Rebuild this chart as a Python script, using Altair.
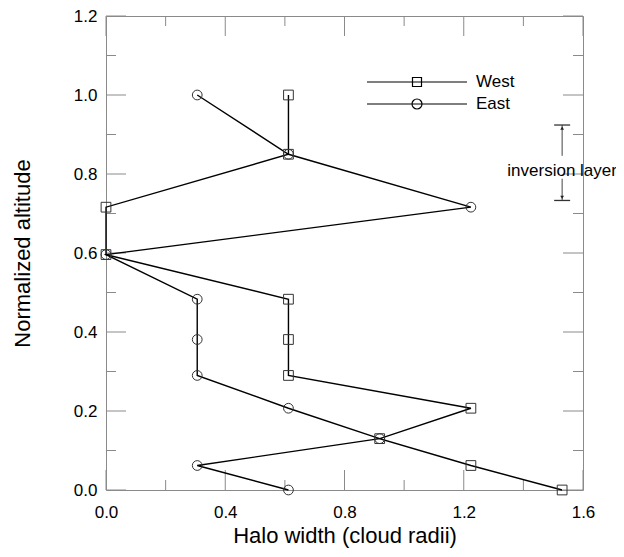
import pandas as pd
import altair as alt

# values
altitude = [1.0, 0.85, 0.716, 0.596, 0.483, 0.381, 0.29, 0.207, 0.13, 0.062, 0.0]
west_width = [0.612, 0.612, 0.0, 0.0, 0.612, 0.612, 0.612, 1.224, 0.918, 1.224, 1.53]
east_width = [0.306, 0.612, 1.224, 0.0, 0.306, 0.306, 0.306, 0.612, 0.918, 0.306, 0.612]
series_names = ['West', 'East']

x_major = [0.0, 0.4, 0.8, 1.2, 1.6]
x_minor = [0.2, 0.6, 1.0, 1.4]
y_major = [0.0, 0.2, 0.4, 0.6, 0.8, 1.0, 1.2]
y_minor = [0.1, 0.3, 0.5, 0.7, 0.9, 1.1]

# inversion layer bracket
inv_x = 1.53
inv_ends = [0.733, 0.924]
inv_shaft_from = [0.733, 0.846]
inv_shaft_to = [0.788, 0.924]
inv_text_y = 0.808
inv_label = 'inversion layer'

W, H = 477, 474
FONT = 'Liberation Sans'
FRAME = '#8a8a8a'

rows = []
for name, widths in zip(series_names, [west_width, east_width]):
    for i, (w, a) in enumerate(zip(widths, altitude)):
        rows.append({'series': name, 'idx': i, 'width': w, 'alt': a})
df = pd.DataFrame(rows)

xs = alt.Scale(domain=[0, 1.6], nice=False, zero=False)
ys = alt.Scale(domain=[0, 1.2], nice=False, zero=False)

x_axis = alt.Axis(values=x_major, format='.1f', ticks=False, domain=False, grid=False, labelFlush=False,
                  labelFontSize=17, labelPadding=14, title='Halo width (cloud radii)',
                  titleFontSize=22, titleFontWeight='normal', titlePadding=5)
y_axis = alt.Axis(values=y_major, format='.1f', ticks=False, domain=False, grid=False, labelFlush=False,
                  labelFontSize=17, labelPadding=9, title='Normalized altitude',
                  titleFontSize=22, titleFontWeight='normal', titlePadding=39)


def X(field):
    return alt.X(field, scale=xs, axis=x_axis)


def Y(field):
    return alt.Y(field, scale=ys, axis=y_axis)


lines = alt.Chart(df).mark_line(color='black', strokeWidth=1.4).encode(
    x=X('width:Q'), y=Y('alt:Q'), detail='series:N', order='idx:Q'
)

points = alt.Chart(df).mark_point(filled=False, color='#333', strokeWidth=1, size=95, opacity=1).encode(
    x=X('width:Q'), y=Y('alt:Q'),
    shape=alt.Shape('series:N', scale=alt.Scale(domain=series_names, range=['square', 'circle']),
                    legend=None)
)

# legend: a long line with the marker in the middle, drawn as custom symbol paths
west_sym = 'M-5,0L5,0M-0.45,-0.45L0.45,-0.45L0.45,0.45L-0.45,0.45Z'
east_sym = ('M-5,0L5,0M0.5,0C0.5,0.276 0.276,0.5 0,0.5C-0.276,0.5 -0.5,0.276 -0.5,0'
            'C-0.5,-0.276 -0.276,-0.5 0,-0.5C0.276,-0.5 0.5,-0.276 0.5,0Z')
legend_layer = alt.Chart(pd.DataFrame({'series': series_names})).transform_filter('false').mark_point(
    filled=False, color='black', strokeWidth=1.2, opacity=1
).encode(
    x=alt.value(0), y=alt.value(0),
    shape=alt.Shape('series:N', scale=alt.Scale(domain=series_names, range=[west_sym, east_sym]),
                    legend=alt.Legend(title=None, orient='none', legendX=300, legendY=55,
                                      symbolSize=400, symbolStrokeColor='black', symbolStrokeWidth=1.2,
                                      symbolOpacity=1, labelFontSize=17, labelOffset=48, rowPadding=3,
                                      padding=0, labelColor='black'))
)


def tick_layers(values, length, field_axis):
    base = alt.Chart(pd.DataFrame({'v': values})).mark_rule(color=FRAME, strokeWidth=1)
    if field_axis == 'x':
        return (base.encode(x=X('v:Q'), y=alt.value(H), y2=alt.value(H - length)) +
                base.encode(x=X('v:Q'), y=alt.value(0), y2=alt.value(length)))
    return (base.encode(y=Y('v:Q'), x=alt.value(0), x2=alt.value(length)) +
            base.encode(y=Y('v:Q'), x=alt.value(W), x2=alt.value(W - length)))


ticks = (tick_layers(x_major, 20, 'x') + tick_layers(x_minor, 10, 'x') +
         tick_layers(y_major, 20, 'y') + tick_layers(y_minor, 10, 'y'))

# inversion layer annotation
shafts = alt.Chart(pd.DataFrame({'x': [inv_x, inv_x], 'y1': inv_shaft_from, 'y2': inv_shaft_to})).mark_rule(
    color='#444', strokeWidth=1
).encode(x=X('x:Q'), y=Y('y1:Q'), y2='y2:Q')
bars = alt.Chart(pd.DataFrame({'x': [inv_x, inv_x], 'y': inv_ends})).mark_tick(
    orient='horizontal', size=16, thickness=1.3, color='#333', opacity=1
).encode(x=X('x:Q'), y=Y('y:Q'))
head_up = alt.Chart(pd.DataFrame({'x': [inv_x], 'y': [inv_ends[1]]})).mark_point(
    shape='triangle-up', filled=True, color='#222', size=14, yOffset=3, opacity=1
).encode(x=X('x:Q'), y=Y('y:Q'))
head_down = alt.Chart(pd.DataFrame({'x': [inv_x], 'y': [inv_ends[0]]})).mark_point(
    shape='triangle-down', filled=True, color='#222', size=14, yOffset=-3, opacity=1
).encode(x=X('x:Q'), y=Y('y:Q'))
label = alt.Chart(pd.DataFrame({'x': [inv_x], 'y': [inv_text_y], 't': [inv_label]})).mark_text(
    fontSize=17, font=FONT, align='center', baseline='middle', color='black'
).encode(x=X('x:Q'), y=Y('y:Q'), text='t:N')

chart = alt.layer(
    ticks, lines, points, legend_layer, shafts, bars, head_up, head_down, label
).resolve_scale(shape='independent').properties(
    width=W, height=H,
    autosize=alt.AutoSizeParams(type='none'),
    padding={'left': 98, 'top': 8, 'right': 33, 'bottom': 59}
).configure_view(
    stroke=FRAME, strokeWidth=1
).configure_axis(
    labelFont=FONT, titleFont=FONT, labelColor='black', titleColor='black'
).configure_legend(
    labelFont=FONT
)

chart.save('out.html', embed_options={'renderer': 'svg', 'actions': False})
